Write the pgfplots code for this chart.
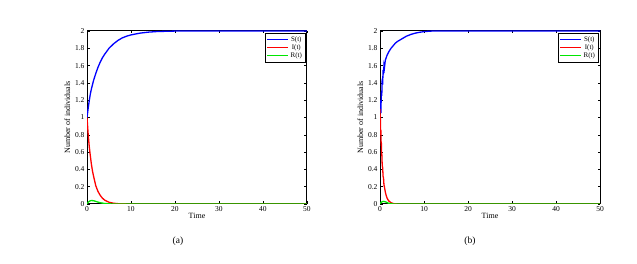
\documentclass[border=0pt]{standalone}
\usepackage{fontspec}
\setmainfont{Liberation Serif}
\usepackage{pgfplots}
\pgfplotsset{compat=1.18}
\definecolor{mblue}{RGB}{0,0,255}
\definecolor{mred}{RGB}{255,0,0}
\definecolor{mgreen}{RGB}{0,230,0}
\pgfplotsset{
  sirstyle/.style={
    scale only axis, width=220pt, height=173pt,
    xmin=0, xmax=50, ymin=0, ymax=2,
    xtick={0,10,20,30,40,50},
    ytick={0,0.2,0.4,0.6,0.8,1,1.2,1.4,1.6,1.8,2},
    yticklabels={0,0.2,0.4,0.6,0.8,1,1.2,1.4,1.6,1.8,2},
    tick align=inside, tick pos=both, major tick length=2.5pt,
    axis line style={line width=1pt},
    tick style={black, line width=0.4pt},
    tick label style={font=\fontsize{7.5}{8}\selectfont},
    /pgf/number format/assume math mode=true,
    xticklabel style={yshift=1.5pt},
    yticklabel style={xshift=1pt},
    xlabel={Time}, ylabel={Number of individuals},
    label style={font=\fontsize{8}{9}\selectfont},
    xlabel style={yshift=5pt},
    ylabel style={yshift=-2pt},
  }
}
\begin{document}
\begin{tikzpicture}
\path[use as bounding box] (0pt,0pt) rectangle (637pt,264pt);
\begin{axis}[sirstyle, at={(87pt,60pt)}, anchor=south west,
  legend style={at={(0.995,0.99)}, anchor=north east, font=\fontsize{7}{8}\selectfont,
      draw=black, line width=0.9pt, inner sep=1.5pt, row sep=-2.5pt},
  legend image code/.code={\draw[#1, line width=1.2pt] (0pt,0pt) -- (21pt,0pt);}]
\addplot[draw=mblue, line width=1.3pt] coordinates {
(0,1) (0.25,1.1) (0.5,1.19) (0.75,1.27) (1,1.33) (1.5,1.43) (2,1.51) (2.5,1.58) (3,1.64) (3.5,1.69) (4,1.73) (5,1.8) (6,1.85) (7,1.89) (8,1.92) (9,1.94) (10,1.955) (12,1.975) (14,1.987) (16,1.994) (20,1.999) (30,2) (50,2)};
\addlegendentry{S(t)}
\addplot[draw=mred, line width=1.3pt] coordinates {
(0,1) (0.25,0.82) (0.5,0.67) (0.75,0.56) (1,0.46) (1.25,0.38) (1.5,0.32) (2,0.21) (2.5,0.145) (3,0.1) (3.5,0.068) (4,0.045) (5,0.02) (6,0.009) (7,0.004) (8,0.002) (10,0) (50,0)};
\addlegendentry{I(t)}
\addplot[draw=mgreen, line width=1.3pt] coordinates {
(0,0) (0.25,0.018) (0.5,0.03) (0.75,0.037) (1,0.04) (1.5,0.038) (2,0.03) (2.5,0.022) (3,0.015) (4,0.006) (5,0.002) (6,0) (50,0)};
\addlegendentry{R(t)}
\end{axis}
\begin{axis}[sirstyle, at={(380pt,60pt)}, anchor=south west,
  legend style={at={(0.995,0.99)}, anchor=north east, font=\fontsize{7}{8}\selectfont,
      draw=black, line width=0.9pt, inner sep=1.5pt, row sep=-2.5pt},
  legend image code/.code={\draw[#1, line width=1.2pt] (0pt,0pt) -- (21pt,0pt);}]
\addplot[draw=mblue, line width=1.3pt] coordinates {
(0,1.1) (0.1,1.2) (0.2,1.05) (0.3,1.3) (0.4,1.25) (0.5,1.45) (0.6,1.38) (0.7,1.55) (0.8,1.5) (0.9,1.6) (1.0,1.57) (1.2,1.66) (1.4,1.69) (1.6,1.72) (1.8,1.74) (2,1.76) (2.5,1.8) (3,1.83) (3.5,1.86) (4,1.88) (5,1.91) (6,1.94) (7,1.96) (8,1.975) (9,1.985) (10,1.993) (12,2) (50,2)};
\addlegendentry{S(t)}
\addplot[draw=mred, line width=1.3pt] coordinates {
(0,1.1) (0.05,0.95) (0.1,1.0) (0.15,0.8) (0.2,0.85) (0.25,0.7) (0.3,0.72) (0.35,0.58) (0.4,0.6) (0.5,0.45) (0.6,0.42) (0.7,0.32) (0.8,0.3) (0.9,0.22) (1.0,0.2) (1.2,0.14) (1.4,0.1) (1.6,0.07) (1.8,0.05) (2,0.035) (2.5,0.015) (3,0.005) (4,0) (50,0)};
\addlegendentry{I(t)}
\addplot[draw=mgreen, line width=1.3pt] coordinates {
(0,0) (0.25,0.018) (0.5,0.027) (0.8,0.03) (1.2,0.026) (1.6,0.016) (2,0.008) (2.5,0.003) (3,0) (50,0)};
\addlegendentry{R(t)}
\end{axis}
\node[font=\fontsize{9.5}{10}\selectfont] at (178pt,23pt) {(a)};
\node[font=\fontsize{9.5}{10}\selectfont] at (470pt,23pt) {(b)};
\end{tikzpicture}
\end{document}
